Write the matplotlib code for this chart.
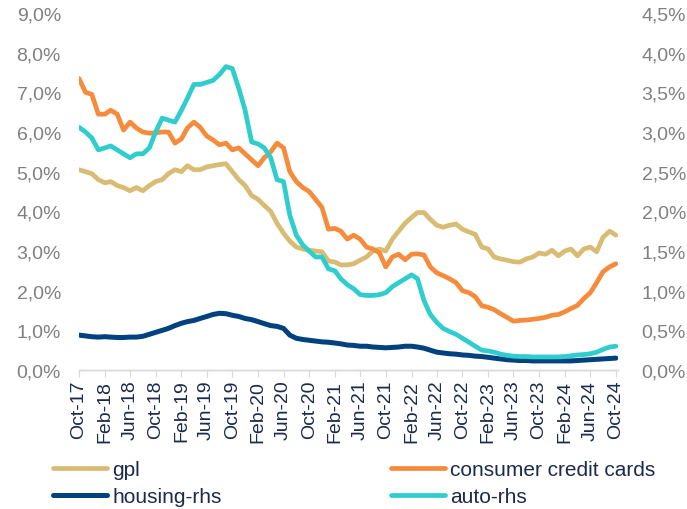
import numpy as np
import pandas as pd
import matplotlib
matplotlib.use("Agg")
import matplotlib.pyplot as plt
from matplotlib.ticker import FuncFormatter

plt.rcParams['font.family'] = ['Liberation Sans', 'DejaVu Sans']

# monthly observations, Oct-17 .. Oct-24
dates = pd.date_range('2017-10-01', '2024-10-01', freq='MS')

# left axis (%)
gpl = [5.05, 5.0, 4.95, 4.8, 4.72, 4.75, 4.65, 4.6, 4.52, 4.6,
       4.52, 4.65, 4.75, 4.8, 4.95, 5.05, 5.0, 5.15, 5.05, 5.05,
       5.12, 5.15, 5.18, 5.2, 5.0, 4.8, 4.65, 4.4, 4.3, 4.15,
       4.0, 3.7, 3.45, 3.25, 3.1, 3.05, 3.02, 3.0, 2.98, 2.75,
       2.72, 2.65, 2.65, 2.68, 2.77, 2.85, 3.0, 3.05, 3.0, 3.3,
       3.5, 3.7, 3.85, 3.97, 3.97, 3.8, 3.65, 3.6, 3.65, 3.68,
       3.55, 3.48, 3.42, 3.1, 3.05, 2.85, 2.8, 2.77, 2.73, 2.72,
       2.8, 2.85, 2.95, 2.92, 3.02, 2.88, 3.0, 3.05, 2.88, 3.05,
       3.1, 2.98, 3.35, 3.5, 3.4]
credit_cards = [7.35, 7.0, 6.95, 6.45, 6.45, 6.55, 6.45, 6.05, 6.25, 6.1,
                6.0, 5.97, 5.98, 6.0, 6.0, 5.72, 5.83, 6.1, 6.25, 6.12,
                5.9, 5.8, 5.68, 5.72, 5.55, 5.6, 5.45, 5.3, 5.15, 5.35,
                5.5, 5.72, 5.6, 5.0, 4.75, 4.6, 4.5, 4.3, 4.1, 3.55,
                3.57, 3.5, 3.3, 3.4, 3.3, 3.1, 3.05, 2.95, 2.6, 2.85,
                2.92, 2.78, 2.92, 2.93, 2.9, 2.6, 2.45, 2.38, 2.3, 2.2,
                2.0, 1.95, 1.85, 1.62, 1.58, 1.52, 1.42, 1.33, 1.23, 1.25,
                1.26, 1.28, 1.3, 1.33, 1.38, 1.4, 1.47, 1.55, 1.63, 1.8,
                1.95, 2.2, 2.48, 2.6, 2.68]

# right axis (%)
housing = [0.44, 0.43, 0.42, 0.415, 0.42, 0.415, 0.41, 0.41, 0.415, 0.415,
           0.425, 0.45, 0.475, 0.5, 0.525, 0.56, 0.59, 0.61, 0.625, 0.65,
           0.675, 0.7, 0.715, 0.71, 0.69, 0.675, 0.65, 0.635, 0.61, 0.585,
           0.56, 0.55, 0.525, 0.44, 0.4, 0.385, 0.375, 0.365, 0.355, 0.35,
           0.34, 0.33, 0.315, 0.31, 0.3, 0.3, 0.29, 0.285, 0.28, 0.285,
           0.29, 0.3, 0.3, 0.29, 0.275, 0.25, 0.225, 0.215, 0.205, 0.2,
           0.19, 0.185, 0.175, 0.17, 0.16, 0.15, 0.14, 0.13, 0.125, 0.12,
           0.12, 0.115, 0.115, 0.115, 0.115, 0.115, 0.115, 0.115, 0.12, 0.125,
           0.13, 0.135, 0.14, 0.145, 0.15]
auto = [3.06, 3.0, 2.925, 2.775, 2.8, 2.825, 2.775, 2.725, 2.675, 2.725,
        2.725, 2.8, 3.0, 3.175, 3.15, 3.125, 3.275, 3.425, 3.6, 3.6,
        3.625, 3.65, 3.725, 3.825, 3.8, 3.55, 3.275, 2.875, 2.85, 2.8,
        2.675, 2.4, 2.375, 1.95, 1.7, 1.575, 1.5, 1.425, 1.425, 1.275,
        1.25, 1.15, 1.075, 1.025, 0.95, 0.94, 0.94, 0.95, 0.975, 1.05,
        1.1, 1.15, 1.2, 1.15, 0.875, 0.7, 0.6, 0.525, 0.485, 0.45,
        0.4, 0.35, 0.3, 0.25, 0.24, 0.225, 0.2, 0.185, 0.175, 0.17,
        0.17, 0.165, 0.165, 0.165, 0.165, 0.165, 0.17, 0.18, 0.19, 0.195,
        0.205, 0.225, 0.26, 0.29, 0.3]

col_gpl = '#D8BC73'
col_cc = '#F68B3C'
col_housing = '#00427F'
col_auto = '#2FCDCD'
txt_dark = '#1C2A4C'
txt_grey = '#808080'

fig = plt.figure(figsize=(6.87, 5.10), dpi=100)
ax = fig.add_axes([0.115, 0.2725, 0.7846, 0.70])
ax2 = ax.twinx()

l_gpl, = ax.plot(dates, gpl, color=col_gpl, lw=3.4, solid_capstyle='round')
l_cc, = ax.plot(dates, credit_cards, color=col_cc, lw=3.4, solid_capstyle='round')
l_h, = ax2.plot(dates, housing, color=col_housing, lw=3.6, solid_capstyle='round')
l_a, = ax2.plot(dates, auto, color=col_auto, lw=3.4, solid_capstyle='round')

ax.set_ylim(0, 9)
ax.set_yticks(np.arange(0, 9.01, 1))
ax2.set_ylim(0, 4.5)
ax2.set_yticks(np.arange(0, 4.51, 0.5))
fmt = FuncFormatter(lambda v, p: ('%.1f%%' % v).replace('.', ','))
ax.yaxis.set_major_formatter(fmt)
ax2.yaxis.set_major_formatter(fmt)

ax.set_xlim(dates[0], dates[-1] + pd.Timedelta(days=10))
ticks = dates[::4]
ax.set_xticks(ticks)
ax.set_xticklabels([d.strftime('%b-%y') for d in ticks])

for a in (ax, ax2):
    for s in ('top', 'left', 'right'):
        a.spines[s].set_visible(False)
    a.spines['bottom'].set_color('#D9D9D9')
    a.spines['bottom'].set_linewidth(1.0)

ax.tick_params(axis='x', length=5, color='#D9D9D9', direction='out', pad=2,
               labelsize=14, labelcolor=txt_dark, labelrotation=90)
ax.tick_params(axis='y', length=0, pad=13, labelsize=14, labelcolor=txt_grey)
ax2.tick_params(axis='y', length=0, pad=17, labelsize=14, labelcolor=txt_grey)

fig.legend([l_gpl, l_h, l_cc, l_a],
           ['gpl', 'housing-rhs', 'consumer credit cards', 'auto-rhs'],
           ncol=2, loc='upper left', bbox_to_anchor=(53 / 687, 1 - 461 / 510),
           frameon=False, fontsize=15, labelcolor=txt_dark,
           handlelength=2.6, handletextpad=0.25, columnspacing=8.1,
           labelspacing=0.4, borderpad=0, borderaxespad=0)

fig.savefig('out.png', dpi=100)
